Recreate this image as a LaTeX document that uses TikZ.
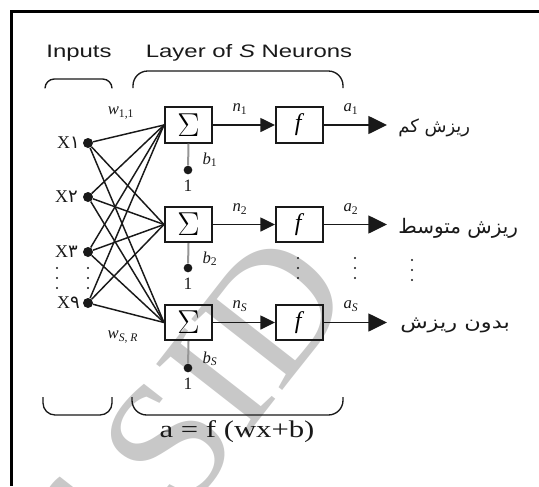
\documentclass[tikz,border=0pt]{standalone}
\usepackage{fontspec}
\setmainfont{Liberation Serif}
\setsansfont{Liberation Sans}
\newfontfamily\arabicfont[Script=Arabic]{DejaVu Sans}
\TeXXeTstate=1
\usetikzlibrary{arrows.meta}
\definecolor{ink}{RGB}{25,25,25}
\definecolor{wmgray}{RGB}{200,200,200}
\definecolor{biasgray}{RGB}{150,150,150}
\newcommand{\fa}[1]{{\arabicfont #1}}

\begin{document}
\begin{tikzpicture}[x=0.75pt,y=-0.75pt,
  sumbox/.style={draw=ink,line width=1.5pt,minimum width=35.25pt,minimum height=26.5pt,inner sep=0pt,fill=none},
  indot/.style={circle,fill=ink,inner sep=0pt,minimum size=7.5pt},
  biasdot/.style={circle,fill=ink,inner sep=0pt,minimum size=6.5pt},
  tinydot/.style={circle,fill=ink,inner sep=0pt,minimum size=1.6pt},
  conn/.style={draw=ink,line width=1.1pt},
  arr/.style={draw=ink,line width=1.1pt,-{Triangle[length=11pt,width=10.5pt]}},
  outarr/.style={draw=ink,line width=1.1pt,-{Triangle[length=14pt,width=13.5pt]}},
  biasline/.style={draw=biasgray,line width=1.5pt},
  brace/.style={draw=ink,line width=1pt},
  head/.style={text=ink,inner sep=0pt,font=\sffamily\fontsize{13.5}{14}\selectfont},
  xlabel/.style={text=ink,inner sep=0pt,anchor=east,font=\fontsize{13.5}{14}\selectfont},
  sym/.style={text=ink,inner sep=0pt,font=\fontsize{12.5}{13}\selectfont},
  one/.style={text=ink,inner sep=0pt,font=\fontsize{13}{13}\selectfont},
  falabel/.style={text=ink,inner sep=0pt,anchor=west,font=\arabicfont\fontsize{13.5}{15}\selectfont}
]
\useasboundingbox (0,0) rectangle (539,486);

% background watermark lettering
\node[text=wmgray,rotate=52,anchor=base west,inner sep=0pt,
      font=\fontsize{132}{132}\selectfont] (wm) at (66,668) {of SID};

% frame
\draw[line width=2.3pt,black] (539,11.5) -- (11.5,11.5) -- (11.5,486);

% headings and braces
\node[head] (inputs) at (79,53) {\scalebox{1.33}[1]{Inputs}};
\node[head] (layer) at (249,53) {\scalebox{1.33}[1]{Layer of \textit{S} Neurons}};
\draw[brace,rounded corners=7pt] (45,88) -- (45,79) -- (112,79) -- (112,88);
\draw[brace,rounded corners=11pt] (133,88) -- (133,71) -- (343,71) -- (343,88);
\draw[brace,rounded corners=9pt] (43,397) -- (43,415) -- (112,415) -- (112,397);
\draw[brace,rounded corners=11pt] (132,397) -- (132,415) -- (343,415) -- (343,397);
\node[text=ink,inner sep=0pt,font=\fontsize{18}{18}\selectfont] (eq) at (237,432) {\scalebox{1.28}[1]{a = f (wx+b)}};

% inputs
\node[indot] (x1) at (88,143) {};
\node[indot] (x2) at (88,197) {};
\node[indot] (x3) at (88,252) {};
\node[indot] (x9) at (88,303) {};
\node[xlabel] (lx1) at (80,143) {X\fa{۱}};
\node[xlabel] (lx2) at (78,197) {X\fa{۲}};
\node[xlabel] (lx3) at (78,252) {X\fa{۳}};
\node[xlabel] (lx9) at (80,303) {X\fa{۹}};
\foreach \yy [count=\k] in {268,278,288} {
  \node[tinydot] (dl\k) at (57,\yy) {};
  \node[tinydot] (dr\k) at (88,\yy) {};
}

% summing junctions and transfer boxes
\node[sumbox] (s1) at (188.5,125) {\fontsize{30}{30}\selectfont$\Sigma$};
\node[sumbox] (s2) at (188.5,224.5) {\fontsize{30}{30}\selectfont$\Sigma$};
\node[sumbox] (s3) at (188.5,322.5) {\fontsize{30}{30}\selectfont$\Sigma$};
\node[sumbox] (f1) at (299.5,125) {\fontsize{18}{18}\selectfont\textit{f}};
\node[sumbox] (f2) at (299.5,224.5) {\fontsize{18}{18}\selectfont\textit{f}};
\node[sumbox] (f3) at (299.5,322.5) {\fontsize{18}{18}\selectfont\textit{f}};

% weights
\foreach \i in {x1,x2,x3,x9} {
  \foreach \j in {s1,s2,s3} {
    \draw[conn] (\i) -- (\j.west);
  }
}
\node[sym] (w11) at (121,113) {\textit{w}\textsubscript{1,1}};
\node[sym] (wsr) at (123,337) {\textit{w}\textsubscript{\textit{S}, \textit{R}}};

% biases
\node[biasdot] (b1) at (188,170) {};
\node[biasdot] (b2) at (188,268) {};
\node[biasdot] (b3) at (188,368) {};
\draw[biasline] (s1.south) -- (b1);
\draw[biasline] (s2.south) -- (b2);
\draw[biasline] (s3.south) -- (b3);
\node[one] (u1) at (188,186) {1};
\node[one] (u2) at (188,284) {1};
\node[one] (u3) at (188,384) {1};
\node[sym] (lb1) at (210,160) {\textit{b}\textsubscript{1}};
\node[sym] (lb2) at (210,259) {\textit{b}\textsubscript{2}};
\node[sym] (lb3) at (210,359) {\textit{b}\textsubscript{\textit{S}}};

% net inputs and outputs
\coordinate (o1) at (387,125);
\coordinate (o2) at (387,224.5);
\coordinate (o3) at (387,322.5);
\draw[arr] (s1.east) -- (f1.west);
\draw[arr] (s2.east) -- (f2.west);
\draw[arr] (s3.east) -- (f3.west);
\draw[outarr] (f1.east) -- (o1);
\draw[outarr] (f2.east) -- (o2);
\draw[outarr] (f3.east) -- (o3);
\node[sym] (n1) at (240,109) {\textit{n}\textsubscript{1}};
\node[sym] (n2) at (240,209) {\textit{n}\textsubscript{2}};
\node[sym] (n3) at (240,306) {\textit{n}\textsubscript{\textit{S}}};
\node[sym] (a1) at (351,109) {\textit{a}\textsubscript{1}};
\node[sym] (a2) at (351,209) {\textit{a}\textsubscript{2}};
\node[sym] (a3) at (351,306) {\textit{a}\textsubscript{\textit{S}}};
\foreach \yy [count=\k] in {258,268,278} {
  \node[tinydot] (fd\k) at (298,\yy) {};
  \node[tinydot] (ad\k) at (355,\yy) {};
  \node[tinydot] (od\k) at (412,\yy+2) {};
}

% output classes
\node[falabel] (c1) at (398,128) {\beginR ریزش کم\endR};
\node[falabel,font=\arabicfont\fontsize{15}{16}\selectfont] (c2) at (398,228) {\beginR ریزش متوسط\endR};
\node[falabel] (c3) at (400,325) {\scalebox{1.25}[1]{\beginR بدون ریزش\endR}};
\end{tikzpicture}
\end{document}
